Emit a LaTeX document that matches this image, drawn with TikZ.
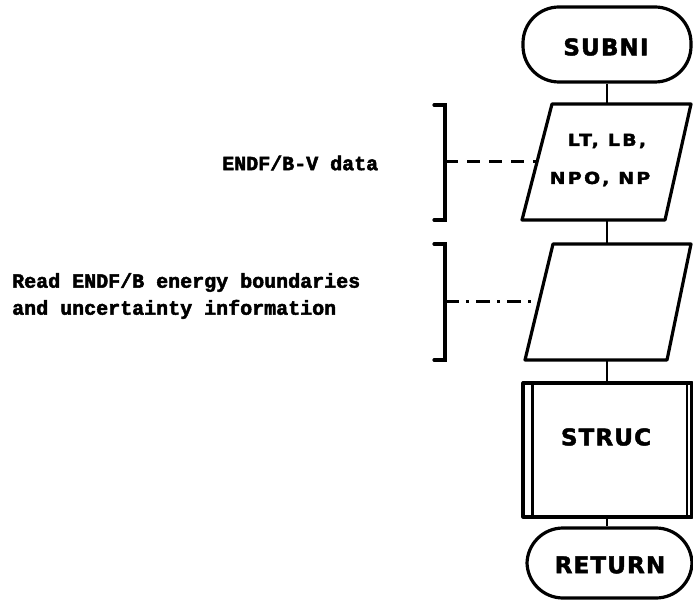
\documentclass[tikz,border=0pt]{standalone}
\usepackage{fontspec}
\newfontfamily\bigflow{DejaVu Sans}[LetterSpace=5, FakeBold=2]
\newfontfamily\smallflow{DejaVu Sans}[LetterSpace=14, FakeStretch=1.15, FakeBold=2]
\newfontfamily\labfont{Liberation Mono}[FakeBold=2.5]
\begin{document}
\begin{tikzpicture}[x=1pt,y=-1pt,
  shape line/.style={line width=3.2pt, line join=round},
  conn/.style={line width=2.8pt},
  brk/.style={line width=3.2pt, line cap=round},
  terminal/.style={draw, shape line, rectangle, rounded corners=36pt, inner sep=0pt},
  bigtext/.style={font=\bigflow\bfseries\fontsize{23}{27}\selectfont, inner sep=0pt},
  smalltext/.style={font=\smallflow\bfseries\fontsize{16.5}{20}\selectfont, inner sep=0pt},
  labtext/.style={font=\labfont\bfseries\fontsize{20}{27}\selectfont, inner sep=0pt, align=left, anchor=west}]
\useasboundingbox (0,0) rectangle (693,601);
% terminals
\node[terminal, minimum width=168pt, minimum height=75pt] (subni) at (607,44.5) {};
\node[bigtext] (subnitext) at (606,47) {SUBNI};
% parallelogram 1
\coordinate (p1tl) at (552,104); \coordinate (p1tr) at (691,104);
\coordinate (p1br) at (665,220); \coordinate (p1bl) at (522,220);
\coordinate (p1t) at (607,104); \coordinate (p1b) at (607,220);
\coordinate (p1l) at (537,162);
\draw[shape line] (p1tl) -- (p1tr) -- (p1br) -- (p1bl) -- cycle;
\node[smalltext] (p1a) at (607,141) {LT, LB,};
\node[smalltext] (p1c) at (600,179) {NPO, NP};
% parallelogram 2
\coordinate (p2tl) at (553,244); \coordinate (p2tr) at (691,244);
\coordinate (p2br) at (667,360); \coordinate (p2bl) at (525,360);
\coordinate (p2t) at (607,244); \coordinate (p2b) at (607,360);
\coordinate (p2l) at (539,302);
\draw[shape line] (p2tl) -- (p2tr) -- (p2br) -- (p2bl) -- cycle;
% predefined process
\node[draw, shape line, rectangle, minimum width=169pt, minimum height=134pt, inner sep=0pt] (struc) at (607.5,450) {};
\draw[line width=2.2pt] ([xshift=11pt]struc.north west) -- ([xshift=11pt]struc.south west);
\draw[line width=2.2pt] ([xshift=-7pt]struc.north east) -- ([xshift=-7pt]struc.south east);
\node[bigtext] (structext) at (606,437) {STRUC};
% return
\node[terminal, minimum width=165pt, minimum height=70pt] (ret) at (609.5,563) {};
\node[bigtext] (rettext) at (610,565) {RETURN};
% connectors
\draw[conn] (subni.south) -- (p1t);
\draw[conn] (p1b) -- (p2t);
\draw[conn] (p2b) -- (struc.north -| p2b);
\draw[conn] (struc.south -| p2b) -- (ret.north -| p2b);
% brackets
\coordinate (b1t) at (445,105); \coordinate (b1b) at (445,220); \coordinate (b1m) at (445,162);
\draw[brk] ([xshift=-11pt]b1t) -- (b1t) -- (b1b) -- ([xshift=-11pt]b1b);
\draw[line width=3pt, dash pattern=on 13pt off 9pt] (b1m) -- (p1l);
\coordinate (b2t) at (445,244); \coordinate (b2b) at (445,360); \coordinate (b2m) at (445,302);
\draw[brk] ([xshift=-11pt]b2t) -- (b2t) -- (b2b) -- ([xshift=-11pt]b2b);
\draw[line width=3pt, dash pattern=on 14pt off 7pt on 3pt off 7pt] (b2m) -- (p2l);
% labels
\node[labtext] (lab1) at (222,163) {ENDF/B-V data};
\node[labtext] (lab2) at (12,296) {Read ENDF/B energy boundaries\\and uncertainty information};
\end{tikzpicture}
\end{document}
